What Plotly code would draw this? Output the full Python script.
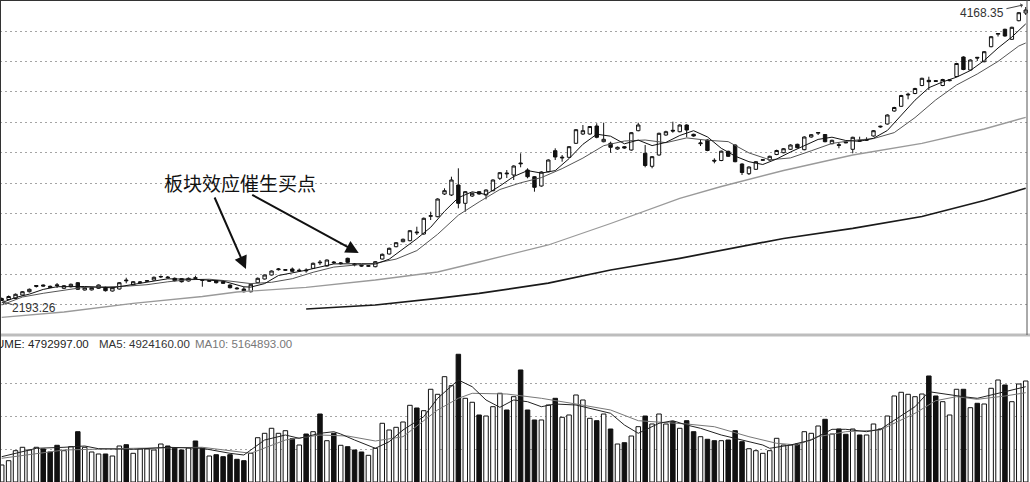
import plotly.graph_objects as go

# ---------------- data ----------------
opens = [2196.6,2203.4,2210.1,2233.6,2255.8,2290.7,2300.8,2292.0,2302.1,2278.6,
         2289.3,2316.2,2267.2,2268.0,2278.6,2285.3,2260.5,2273.9,2334.4,2300.8,
         2316.2,2325.6,2334.4,2354.5,2354.5,2345.8,2343.1,2327.6,2349.8,2336.4,
         2325.6,2329.7,2322.9,2300.8,2280.6,2273.9,2255.8,2316.2,2341.1,2367.9,
         2403.6,2399.5,2408.3,2394.8,2401.5,2413.0,2455.3,2428.4,2455.3,2443.9,
         2480.1,2441.8,2433.1,2426.4,2423.7,2475.4,2509.0,2558.1,2591.7,2598.4,
         2656.8,2643.4,2762.3,2759.6,2912.1,2905.4,2972.6,2849.6,2898.7,2927.6,
         2905.4,2934.3,3017.6,3053.2,3039.7,3120.4,3073.3,3028.3,2965.9,3061.9,
         3203.0,3154.0,3158.7,3252.7,3315.2,3315.2,3368.9,3263.5,3252.7,3214.4,
         3229.9,3207.7,3337.4,3185.5,3098.2,3174.1,3308.5,3340.0,3330.6,3375.6,
         3313.2,3250.0,3274.9,3138.5,3137.2,3199.0,3241.3,3113.6,3048.5,3078.0,
         3138.5,3140.5,3177.5,3189.6,3212.4,3246.0,3209.7,3295.0,3320.6,3311.8,
         3250.0,3243.3,3261.5,3212.4,3272.9,3272.9,3301.8,3362.2,3382.4,3469.7,
         3501.3,3577.2,3587.3,3641.0,3675.9,3673.3,3641.0,3673.3,3701.5,3832.5,
         3745.1,3830.5,3800.9,3901.7,3985.6,4018.6,3951.4,4076.3,4128.1]
highs = [2216.8,2230.2,2243.7,2260.5,2277.3,2300.8,2304.1,2297.4,2314.2,2300.8,
         2310.9,2320.9,2287.3,2287.3,2304.1,2290.7,2287.3,2320.9,2349.8,2327.6,
         2327.6,2334.4,2357.9,2364.6,2361.2,2351.2,2347.8,2351.2,2363.3,2341.1,
         2334.4,2334.4,2327.6,2305.5,2287.3,2287.3,2310.9,2351.2,2371.3,2398.2,
         2415.0,2408.3,2418.3,2411.6,2413.0,2451.9,2468.7,2472.1,2462.0,2455.3,
         2484.2,2448.6,2438.5,2435.1,2462.0,2512.4,2552.7,2589.6,2613.2,2670.3,
         2692.4,2754.2,2793.2,2883.2,2950.4,3028.3,3084.8,2932.3,2922.2,2932.3,
         2943.7,3010.9,3059.9,3073.3,3104.9,3185.5,3084.8,3033.0,3064.6,3145.2,
         3219.1,3174.1,3234.6,3348.8,3375.6,3368.9,3387.1,3391.1,3263.5,3231.2,
         3234.6,3328.6,3391.1,3241.3,3167.4,3323.9,3337.4,3397.8,3380.4,3380.4,
         3317.2,3274.9,3279.6,3151.9,3204.3,3203.0,3246.0,3118.3,3098.2,3133.8,
         3147.2,3169.4,3209.7,3221.1,3246.0,3250.0,3299.8,3315.2,3326.6,3315.2,
         3276.9,3254.7,3266.2,3297.1,3297.1,3293.0,3342.1,3370.9,3447.5,3497.9,
         3578.5,3592.6,3625.6,3693.4,3700.1,3678.0,3686.0,3682.7,3793.5,3837.2,
         3817.0,3832.5,3872.8,3973.6,3992.4,4022.6,4036.0,4134.8,4168.35]
lows = [2193.26,2200.0,2206.7,2230.2,2250.4,2284.0,2290.7,2280.6,2280.6,2273.9,
        2284.0,2267.2,2263.8,2263.8,2273.9,2257.1,2257.1,2270.5,2312.2,2297.4,
        2310.9,2320.9,2331.0,2347.8,2344.5,2324.3,2317.6,2324.3,2341.1,2289.3,
        2320.9,2310.9,2307.5,2277.3,2270.5,2250.4,2250.4,2314.2,2337.7,2364.6,
        2398.2,2394.8,2388.1,2391.5,2383.4,2408.3,2435.1,2425.1,2441.8,2438.5,
        2448.6,2426.4,2423.7,2421.7,2419.7,2472.1,2505.7,2554.0,2587.6,2594.3,
        2636.7,2638.7,2737.4,2755.6,2905.4,2898.7,2816.0,2793.2,2892.0,2907.4,
        2876.5,2930.2,3006.2,3019.6,3006.2,3091.5,3017.6,2927.6,2961.1,3057.9,
        3140.5,3129.1,3154.0,3248.0,3308.5,3310.5,3286.3,3259.4,3189.6,3209.7,
        3216.4,3203.0,3333.3,3091.5,3084.8,3169.4,3303.8,3323.9,3326.6,3293.0,
        3297.1,3234.6,3199.6,3118.3,3132.5,3160.7,3125.1,3039.7,3039.7,3073.3,
        3133.8,3135.8,3172.8,3185.5,3207.7,3219.1,3205.7,3290.3,3308.5,3259.4,
        3246.0,3219.1,3252.7,3185.5,3263.5,3268.2,3297.1,3357.5,3377.7,3465.0,
        3496.6,3548.3,3582.6,3636.3,3610.8,3664.5,3636.3,3669.2,3696.8,3743.8,
        3740.4,3805.6,3796.9,3897.6,3970.2,3968.8,3946.7,4072.3,4114.6]
closes = [2210.1,2223.5,2238.3,2255.8,2271.9,2297.4,2294.1,2285.3,2297.4,2296.1,
          2305.5,2271.9,2282.6,2283.5,2300.8,2262.5,2282.6,2316.2,2329.7,2322.9,
          2320.9,2329.7,2352.5,2357.9,2349.8,2329.7,2322.9,2345.8,2345.8,2332.3,
          2329.7,2316.2,2312.2,2282.6,2275.9,2255.8,2305.5,2345.8,2367.9,2394.8,
          2408.3,2403.6,2392.8,2399.5,2396.8,2446.5,2450.6,2468.7,2450.6,2448.6,
          2453.3,2437.2,2428.4,2430.4,2457.3,2507.0,2547.3,2584.9,2607.8,2665.6,
          2652.1,2748.9,2766.3,2878.5,2934.3,3006.2,2849.6,2927.6,2916.8,2912.1,
          2939.0,3006.2,3055.2,3048.5,3100.2,3115.7,3028.3,2957.1,3059.9,3140.5,
          3160.7,3158.7,3229.9,3344.1,3337.4,3365.6,3293.0,3279.6,3225.8,3225.8,
          3221.1,3323.9,3375.6,3103.6,3162.7,3319.9,3330.6,3335.3,3375.6,3342.1,
          3301.8,3254.7,3204.3,3133.8,3199.6,3165.4,3129.1,3056.5,3093.5,3129.1,
          3142.5,3165.4,3204.3,3216.4,3241.3,3223.2,3295.0,3310.5,3325.3,3263.5,
          3272.9,3239.3,3256.7,3293.0,3268.2,3276.9,3337.4,3366.9,3442.8,3493.2,
          3573.8,3581.9,3620.9,3689.4,3666.5,3669.2,3681.3,3678.0,3788.8,3748.5,
          3812.3,3825.8,3868.1,3968.8,3990.3,3973.6,4032.0,4130.1,4148.2]
volume = [807000,1011000,1486000,1647000,1519000,1647000,1566000,1424000,1742000,1486000,
          1675000,2387000,1647000,1424000,1329000,1329000,1234000,1709000,1770000,1362000,
          1566000,1566000,1519000,1803000,1709000,1614000,1519000,1614000,1946000,1599000,
          1234000,1296000,1201000,1296000,1077000,1011000,1362000,2102000,2311000,2549000,
          2311000,2435000,2055000,1756000,2278000,2387000,3227000,1960000,2311000,1742000,
          1675000,1519000,1424000,1267000,1599000,2786000,2468000,2596000,2848000,3640000,
          3512000,3384000,4400000,4162000,4998000,4570000,6061000,3972000,3783000,3180000,
          3132000,3574000,4210000,3417000,4048000,5316000,3417000,2943000,2943000,3654000,
          3972000,3071000,3180000,4129000,3892000,3023000,2909000,3227000,2515000,1803000,
          1865000,2183000,2625000,3132000,2753000,3227000,2753000,2862000,2549000,2909000,
          2387000,2150000,2027000,1960000,1960000,1993000,2435000,1913000,1580000,1486000,
          1362000,1486000,2074000,1756000,1756000,1803000,2387000,2311000,2658000,2976000,
          2278000,2515000,2264000,2515000,2231000,2231000,2753000,2515000,3132000,4082000,
          4257000,4162000,4048000,4176000,5031000,4082000,3811000,3180000,4400000,4400000,
          3526000,3735000,3702000,4447000,4841000,4604000,3811000,4651000,4792997]

ma5_x = [0,2,4,6,8,12,16,20,24,28,32,35,36,38,40,44,48,52,54,56,58,60,62,64,66,68,70,72,74,76,
         78,80,82,84,86,88,90,92,94,96,98,100,102,104,106,108,110,112,114,116,118,120,122,124,126,
         128,130,132,134,136,138,140,142,144,146,148]
ma5_y = [2181.9,2216.8,2239.6,2271.2,2289.3,2290.7,2282.0,2314.2,2342.4,2339.1,2327.0,2288.7,
         2286.7,2310.2,2364.6,2400.2,2442.5,2443.9,2441.2,2474.1,2540.6,2611.8,2688.4,2795.9,
         2887.3,2926.9,2908.7,2965.9,3029.7,3069.3,3052.5,3069.3,3149.9,3246.0,3313.8,3300.4,
         3249.4,3274.2,3237.3,3258.8,3305.1,3337.4,3295.7,3219.1,3166.7,3129.1,3110.3,3147.2,
         3194.3,3235.9,3278.9,3293.7,3271.5,3266.2,3286.3,3338.7,3442.8,3542.3,3626.2,3665.2,
         3696.8,3741.8,3809.0,3892.9,3966.8,4054.8]
ma10_x = [0,3,6,9,12,15,18,21,24,27,30,33,36,39,42,45,48,51,54,57,60,63,66,69,72,75,78,81,84,
          87,90,93,96,99,102,105,108,111,114,117,120,123,126,129,132,135,138,141,144,147,148]
ma10_y = [2166.4,2220.2,2245.0,2267.2,2286.0,2288.0,2292.7,2302.8,2322.3,2336.4,2339.7,2327.0,
          2310.2,2318.9,2343.1,2386.1,2421.1,2434.5,2447.2,2474.8,2531.9,2641.4,2769.7,2859.0,
          2942.3,2987.3,3022.3,3082.7,3153.3,3236.6,3268.2,3274.9,3256.7,3289.0,3272.9,3264.1,
          3188.2,3141.9,3154.6,3202.3,3252.0,3272.2,3284.3,3324.6,3425.4,3544.3,3644.4,3718.3,
          3802.9,3906.4,3926.5]
ma30_x = [0,9,19,29,34,44,54,63,69,72,79,88,98,104,113,123,133,142,148]
ma30_y = [2083.8,2119.4,2177.8,2223.5,2253.7,2285.3,2334.4,2388.1,2455.3,2490.9,2569.5,
          2713.9,2883.2,2962.5,3070.0,3174.1,3252.7,3348.8,3427.4]
ma60_x = [44,54,63,69,79,88,98,104,113,123,133,142,148]
ma60_y = [2139.5,2166.4,2211.4,2245.0,2313.0,2401.5,2480.1,2531.9,2613.2,2681.7,2761.0,
          2868.5,2950.4]

vma5_x = [0,5,9,12,14,19,24,29,33,35,38,41,43,46,48,49,51,54,56,58,61,63,66,68,70,72,74,76,
          78,80,83,86,88,90,92,95,97,99,101,104,107,110,111,114,117,120,122,125,127,129,132,
          134,137,139,141,144,146,148]
vma5_y = [1200600,1599000,1647000,1708000,1580000,1552000,1647000,1599000,1362000,1281000,
          1993000,2230000,2074000,2311000,2387000,2278000,1993000,1599000,1912000,2468000,
          3099000,3972000,4840000,4522000,3891000,3545000,3891000,3811000,3573000,3701000,
          3654000,3417000,3260000,2705000,2311000,2786000,2909000,2705000,2548000,2230000,
          1993000,1756000,1599000,1756000,1993000,2501000,2501000,2387000,2501000,2942000,
          3573000,4285000,4129000,4048000,3972000,4209000,4366000,4522000]
vma10_x = [0,9,19,29,33,36,41,46,50,54,58,63,66,68,73,78,83,88,92,97,99,103,108,112,115,118,
           122,127,132,135,138,141,145,148]
vma10_y = [1125000,1519000,1599000,1647000,1485000,1362000,1993000,2230000,2183000,1946000,
           2150000,3417000,3972000,4209000,4176000,3972000,3701000,3417000,2909000,2814000,
           2752000,2624000,2150000,1837000,1756000,2150000,2387000,2468000,3260000,3858000,
           4048000,3924000,4081000,4238000]

high_label = "4168.35"
low_label = "2193.26"
title_text = "板块效应催生买点"
vol_label = "VOLUME: 4792997.00"
vma5_label = "MA5: 4924160.00"
vma10_label = "MA10: 5164893.00"

price_grid = [4007.1, 3802.6, 3598.1, 3393.6, 3189.1, 2984.6, 2780.2, 2575.7, 2371.2, 2166.7]
vol_grid = [1566000, 3132000, 4698000]

# ---------------- figure ----------------
idx = list(range(len(opens)))
W, H = 1030, 482
INK = "#111111"

fig = go.Figure()

fig.add_trace(go.Scatter(x=ma60_x, y=ma60_y, mode="lines", line=dict(color="#1a1a1a", width=1.7),
                         xaxis="x", yaxis="y", hoverinfo="skip"))
fig.add_trace(go.Scatter(x=ma30_x, y=ma30_y, mode="lines", line=dict(color="#9a9a9a", width=1.3),
                         xaxis="x", yaxis="y", hoverinfo="skip"))
fig.add_trace(go.Scatter(x=ma10_x, y=ma10_y, mode="lines", line=dict(color="#555555", width=1),
                         xaxis="x", yaxis="y", hoverinfo="skip"))
fig.add_trace(go.Scatter(x=ma5_x, y=ma5_y, mode="lines", line=dict(color="#111111", width=1),
                         xaxis="x", yaxis="y", hoverinfo="skip"))

fig.add_trace(go.Candlestick(
    x=idx, open=opens, high=highs, low=lows, close=closes,
    increasing=dict(line=dict(color=INK, width=1), fillcolor="white"),
    decreasing=dict(line=dict(color=INK, width=1), fillcolor=INK),
    whiskerwidth=0, xaxis="x", yaxis="y", hoverinfo="skip"))

vol_colors = ["white" if c >= o else INK for o, c in zip(opens, closes)]
fig.add_trace(go.Bar(x=idx, y=volume, width=0.65,
                     marker=dict(color=vol_colors, line=dict(color=INK, width=1)),
                     xaxis="x2", yaxis="y2", hoverinfo="skip"))
fig.add_trace(go.Scatter(x=vma10_x, y=vma10_y, mode="lines", line=dict(color="#777777", width=1),
                         xaxis="x2", yaxis="y2", hoverinfo="skip"))
fig.add_trace(go.Scatter(x=vma5_x, y=vma5_y, mode="lines", line=dict(color="#222222", width=1),
                         xaxis="x2", yaxis="y2", hoverinfo="skip"))

xr = [-0.246, 148.62]
price_bottom_px = 335
vol_top_px = 350
price_dom = [1 - price_bottom_px / H, 1]
vol_dom = [0, 1 - vol_top_px / H]

fig.update_layout(
    width=W, height=H, margin=dict(l=0, r=0, t=0, b=0, autoexpand=False),
    paper_bgcolor="white", plot_bgcolor="white", showlegend=False,
    xaxis=dict(range=xr, visible=False, rangeslider=dict(visible=False), anchor="y"),
    xaxis2=dict(range=xr, visible=False, anchor="y2"),
    yaxis=dict(domain=price_dom, range=[1964.9, 4215.4], tickvals=price_grid,
               showticklabels=False, ticks="", showgrid=True, gridcolor="#a5a5a5",
               griddash="2px,3px", gridwidth=1, zeroline=False, showline=False),
    yaxis2=dict(domain=vol_dom, range=[0, 6264060], tickvals=vol_grid,
                showticklabels=False, ticks="", showgrid=True, gridcolor="#a5a5a5",
                griddash="2px,3px", gridwidth=1, zeroline=False, showline=False),
)

sep_y = 1 - price_bottom_px / H
fig.add_shape(type="line", xref="paper", yref="paper", x0=0, x1=1, y0=sep_y, y1=sep_y,
              line=dict(color="#bdbdbd", width=3))
fig.add_shape(type="line", xref="paper", yref="paper", x0=0, x1=1, y0=1, y1=1,
              line=dict(color="#333333", width=2))
fig.add_shape(type="line", xref="paper", yref="paper", x0=0, x1=0, y0=0, y1=1,
              line=dict(color="#333333", width=2))
fig.add_shape(type="line", xref="paper", yref="paper", x0=1027 / W, x1=1027 / W, y0=sep_y, y1=1,
              line=dict(color="#555555", width=1))

num_font = dict(family="Liberation Sans, Arial, sans-serif", size=12, color="#333333")
lab_font = "Liberation Sans, Arial, sans-serif"

annots = [
    dict(text=title_text, xref="paper", yref="paper", x=240 / W, y=1 - 182 / H,
         xanchor="center", yanchor="middle", showarrow=False,
         font=dict(family="Noto Sans CJK SC", size=19, color=INK)),
    dict(text="", x=35.3, y=2408.3, xref="x", yref="y", ax=-32, ay=-73, showarrow=True,
         arrowhead=2, arrowsize=1.3, arrowwidth=2, arrowcolor=INK),
    dict(text="", x=51.6, y=2515.7, xref="x", yref="y", ax=-108, ay=-59, showarrow=True,
         arrowhead=2, arrowsize=1.3, arrowwidth=2, arrowcolor=INK),
    dict(text=high_label, xref="paper", yref="paper", x=982 / W, y=1 - 12.5 / H,
         xanchor="center", yanchor="middle", showarrow=False, font=num_font),
    dict(text="", x=147.6, y=4181.8, xref="x", yref="y", ax=-18, ay=4, showarrow=True,
         arrowhead=1, arrowsize=0.8, arrowwidth=1, arrowcolor="#444444"),
    dict(text=low_label, xref="paper", yref="paper", x=34 / W, y=1 - 308 / H,
         xanchor="center", yanchor="middle", showarrow=False, font=num_font),
    dict(text="", x=0.05, y=2187.0, xref="x", yref="y", ax=12, ay=3, showarrow=True,
         arrowhead=1, arrowsize=0.8, arrowwidth=1, arrowcolor="#444444"),
    dict(text=vol_label, xref="paper", yref="paper", x=91 / W, y=1 - 344 / H,
         xanchor="right", yanchor="middle", showarrow=False,
         font=dict(family=lab_font, size=11.5, color="#222222")),
    dict(text=vma5_label, xref="paper", yref="paper", x=97 / W, y=1 - 344 / H,
         xanchor="left", yanchor="middle", showarrow=False,
         font=dict(family=lab_font, size=11.5, color="#333333")),
    dict(text=vma10_label, xref="paper", yref="paper", x=193 / W, y=1 - 344 / H,
         xanchor="left", yanchor="middle", showarrow=False,
         font=dict(family=lab_font, size=11.5, color="#777777")),
]
fig.update_layout(annotations=annots)

fig.write_html("out.html", config={"displayModeBar": False},
               post_script="document.body.style.margin='0px';document.body.style.overflow='hidden';")
